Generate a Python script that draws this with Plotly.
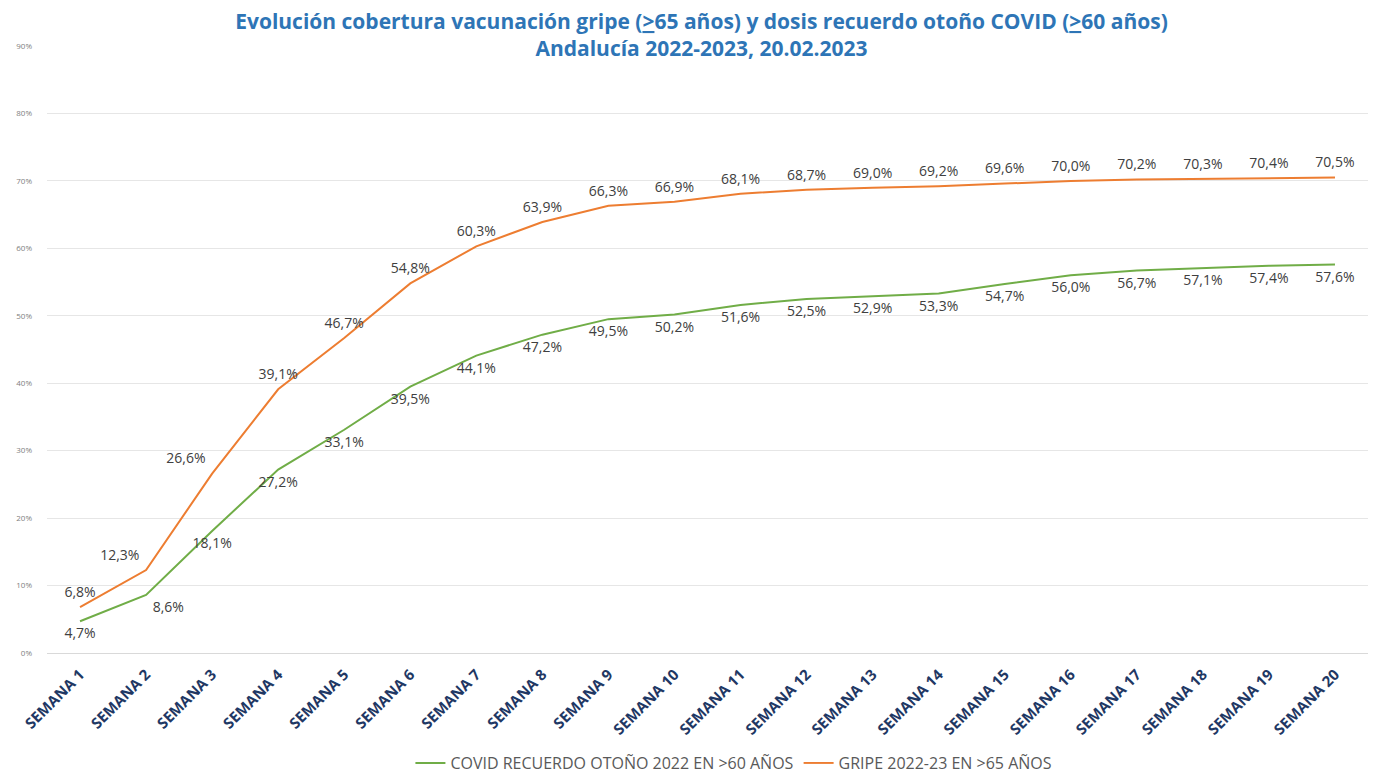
import plotly.graph_objects as go

semanas = ["SEMANA %d" % i for i in range(1, 21)]
covid = [4.7, 8.6, 18.1, 27.2, 33.1, 39.5, 44.1, 47.2, 49.5, 50.2,
         51.6, 52.5, 52.9, 53.3, 54.7, 56.0, 56.7, 57.1, 57.4, 57.6]
gripe = [6.8, 12.3, 26.6, 39.1, 46.7, 54.8, 60.3, 63.9, 66.3, 66.9,
         68.1, 68.7, 69.0, 69.2, 69.6, 70.0, 70.2, 70.3, 70.4, 70.5]
yticks = [0, 10, 20, 30, 40, 50, 60, 70, 80, 90]

def lab(v):
    return ("%.1f%%" % v).replace(".", ",")

# label positions, roughly as in the original
pos_gripe = ["top center"] * 20
pos_gripe[1] = "top left"
pos_gripe[2] = "top left"
pos_covid = ["bottom center"] * 20
pos_covid[1] = "bottom right"

fig = go.Figure()
fig.add_trace(go.Scatter(x=semanas, y=covid, mode="lines+markers+text", name="COVID RECUERDO OTOÑO 2022 EN >60 AÑOS",
                         line=dict(color="#70AD47", width=2),
                         marker=dict(size=9, color="rgba(0,0,0,0)"),
                         text=[lab(v) for v in covid], textposition=pos_covid,
                         textfont=dict(size=14, color="#404040", family="Open Sans")))
fig.add_trace(go.Scatter(x=semanas, y=gripe, mode="lines+markers+text", name="GRIPE 2022-23 EN >65 AÑOS",
                         line=dict(color="#ED7D31", width=2),
                         marker=dict(size=9, color="rgba(0,0,0,0)"),
                         text=[lab(v) for v in gripe], textposition=pos_gripe,
                         textfont=dict(size=14, color="#404040", family="Open Sans")))

fig.update_layout(
    width=1387, height=774,
    paper_bgcolor="white", plot_bgcolor="white",
    margin=dict(l=39, r=27, t=38, b=129),
    title=dict(text="Evolución cobertura vacunación gripe (<u>></u>65 años) y dosis recuerdo otoño COVID (<u>></u>60 años)<br>Andalucía 2022-2023, 20.02.2023",
               x=0.5, xanchor="center", y=1 - 21 / 774, yanchor="middle",
               font=dict(size=21, color="#2E75B6", family="Open Sans", weight="bold")),
    legend=dict(orientation="h", x=0.52, xanchor="center", yref="container", y=19 / 774, yanchor="middle",
                itemwidth=30, font=dict(size=16, color="#595959", family="Open Sans")),
    xaxis=dict(tickangle=-45, showgrid=False, showline=True, linecolor="#D9D9D9", automargin=False,
               range=[-0.5, 19.5], ticklabelstandoff=6,
               tickfont=dict(size=15, color="#1F3864", family="Open Sans", weight="bold")),
    yaxis=dict(range=[0, 90], tickvals=yticks, ticktext=["%d%%" % v for v in yticks],
               gridcolor="#E6E6E6", zeroline=False, automargin=False, ticklabelstandoff=14,
               tickfont=dict(size=8, color="#808080", family="Open Sans")),
)

fig.write_html("out.html")
